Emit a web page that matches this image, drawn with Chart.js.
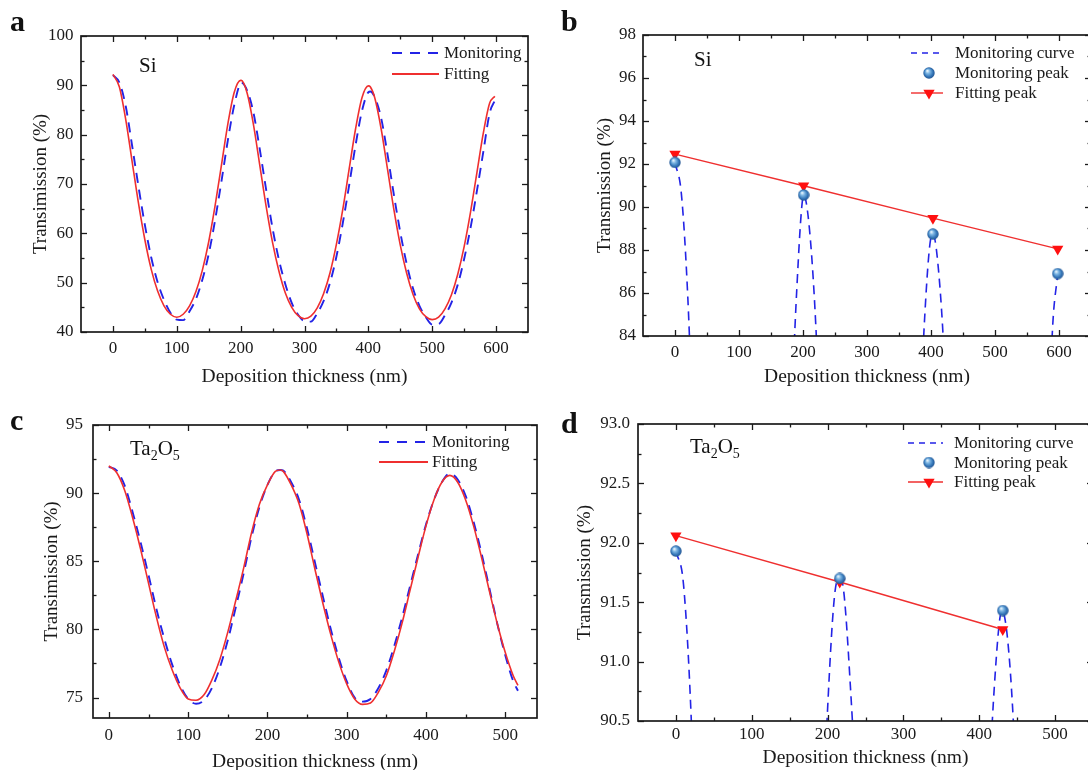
<!DOCTYPE html>
<html><head><meta charset="utf-8">
<script src="https://cdn.jsdelivr.net/npm/chart.js@4.4.1/dist/chart.umd.min.js"></script>
<style>
html,body{margin:0;padding:0;background:#fff;width:1088px;height:770px;overflow:hidden;position:relative}
canvas{position:absolute}
.lbl{position:absolute;font-family:"Liberation Serif","Times New Roman",serif;color:#111;white-space:nowrap;line-height:1}
.letter{font-weight:bold;font-size:30px}
.mat{font-size:21px}
.mat sub{font-size:14px;vertical-align:-5px;line-height:0}
</style></head><body>
<canvas id="ca" width="544" height="400" style="left:0;top:0"></canvas>
<canvas id="cb" width="560" height="400" style="left:544px;top:0"></canvas>
<canvas id="cc" width="544" height="400" style="left:0;top:385px"></canvas>
<canvas id="cd" width="560" height="400" style="left:544px;top:385px"></canvas>
<div class="lbl letter" style="left:10px;top:6px">a</div>
<div class="lbl letter" style="left:561px;top:6px">b</div>
<div class="lbl letter" style="left:10px;top:405px">c</div>
<div class="lbl letter" style="left:561px;top:408px">d</div>
<div class="lbl mat" style="left:139px;top:55px">Si</div>
<div class="lbl mat" style="left:694px;top:49px">Si</div>
<div class="lbl mat" style="left:130px;top:438px">Ta<sub>2</sub>O<sub>5</sub></div>
<div class="lbl mat" style="left:690px;top:436px">Ta<sub>2</sub>O<sub>5</sub></div>
<script>
// ---------- data ----------
const siThickness = [0,10,20,30,40,50,60,70,80,90,100,110,120,130,140,150,160,170,180,190,200,201,210,220,230,240,250,260,270,280,290,300,310,320,330,340,350,360,370,380,390,400,403,410,420,430,440,450,460,470,480,490,500,510,520,530,540,550,560,570,580,590,598];
const siFitting = [92.2,89.7,83.1,74.6,66.1,58.7,52.7,48.3,45.3,43.6,43.0,43.6,45.3,48.2,52.5,58.3,65.6,73.9,82.2,88.6,91.0,91.0,88.5,82.1,73.8,65.4,58.1,52.3,47.9,45.0,43.3,42.7,43.2,44.9,47.8,52.0,57.8,64.9,73.1,81.2,87.5,89.9,89.7,87.5,81.2,73.0,64.8,57.6,51.9,47.6,44.7,43.1,42.5,43.0,44.7,47.5,51.7,57.3,64.3,72.3,80.3,86.4,87.8];
const siMonitoring = [92.07,90.6,85.8,77.8,69.5,61.7,55.1,50.1,46.5,43.9,42.5,42.4,44.2,46.7,50.6,55.8,62.7,70.6,78.9,86.0,90.5,90.56,89.0,84.5,77.0,68.8,61.0,54.6,49.7,45.9,43.5,42.2,42.1,43.8,46.3,50.0,55.3,62.1,69.8,77.9,84.8,88.6,88.74,87.6,83.4,76.0,67.8,60.2,53.8,48.8,45.3,43.0,41.5,41.6,43.4,45.9,49.6,54.8,61.1,68.6,76.5,84.4,86.9];
const siPeakX = [0,201,403,598];
const siMonitorPeak = [92.07,90.56,88.74,86.9];
const siFitPeak = [92.46,90.99,89.48,88.05];

const taThickness = [0,10,20,30,40,50,60,70,80,90,100,110,120,130,140,150,160,170,180,190,200,210,216,220,230,240,250,260,270,280,290,300,310,320,330,340,350,360,370,380,390,400,410,420,430,440,450,460,470,480,490,500,510,516];
const taFitting = [92.0,91.5,90.2,88.2,85.9,83.4,80.9,78.7,77.0,75.7,74.9,74.8,75.2,76.3,77.8,79.8,82.1,84.5,87.1,89.2,90.6,91.6,91.7,91.6,90.6,89.2,87.0,84.4,81.9,79.6,77.6,76.0,74.9,74.5,74.6,75.4,76.6,78.4,80.5,82.9,85.3,87.6,89.5,90.8,91.3,90.8,89.5,87.6,85.3,82.8,80.4,78.3,76.6,75.9];
const taMonitoring = [91.93,91.65,90.55,88.6,86.4,84.0,81.5,79.3,77.4,75.9,74.9,74.55,74.8,75.7,77.2,79.2,81.6,84.1,86.8,89.0,90.6,91.6,91.70,91.65,90.8,89.5,87.4,84.9,82.4,80.0,77.9,76.2,75.0,74.7,74.9,75.7,77.0,78.8,80.9,83.2,85.5,87.7,89.5,90.8,91.43,91.0,89.8,87.9,85.6,83.0,80.4,78.1,76.2,75.5];
const taPeakX = [0,216,431];
const taMonitorPeak = [91.93,91.70,91.43];
const taFitPeak = [92.06,91.67,91.27];

// tick values
const siXTicks = [0,100,200,300,400,500,600];
const siXMinor = [50,150,250,350,450,550];
const taXTicksC = [0,100,200,300,400,500];
const taXMinorC = [50,150,250,350,450];
const taXTicksD = [0,100,200,300,400,500];
const taXMinorD = [50,150,250,350,450];
const aYTicks = [40,50,60,70,80,90,100];
const aYMinor = [45,55,65,75,85,95];
const bYTicks = [84,86,88,90,92,94,96,98];
const bYMinor = [85,87,89,91,93,95,97];
const cYTicks = [75,80,85,90,95];
const cYMinor = [77.5,82.5,87.5,92.5];
const dYTicks = [90.5,91.0,91.5,92.0,92.5,93.0];
const dYMinor = [90.75,91.25,91.75,92.25,92.75];

// ---------- styling helpers ----------
const FONT = '"Liberation Serif", "Times New Roman", serif';
const BLUE = '#2323e6';
const RED = '#ef2f2f';
const TXT = '#1a1a1a';

function makeSphere(d){
  const c = document.createElement('canvas'); c.width = c.height = d;
  const g = c.getContext('2d'); const r = d/2;
  const grad = g.createRadialGradient(r*0.72, r*0.62, r*0.08, r, r, r);
  grad.addColorStop(0,'#e4f2fc'); grad.addColorStop(0.3,'#7db6e3');
  grad.addColorStop(0.7,'#3476b8'); grad.addColorStop(1,'#1f4f8c');
  g.fillStyle = grad; g.beginPath(); g.arc(r, r, r-0.3, 0, Math.PI*2); g.fill();
  return c;
}
const sphere = makeSphere(12);

function drawDownTri(ctx, x, y, r, color){
  ctx.save(); ctx.fillStyle = color; ctx.beginPath();
  ctx.moveTo(x - r*0.87, y - r*0.5); ctx.lineTo(x + r*0.87, y - r*0.5); ctx.lineTo(x, y + r);
  ctx.closePath(); ctx.fill(); ctx.restore();
}

const framePlugin = {
  id: 'frame',
  afterDatasetsDraw(chart, args, o){
    const {ctx, chartArea:{left,right,top,bottom}, scales:{x,y}} = chart;
    ctx.save();
    ctx.strokeStyle = '#1a1a1a';
    ctx.lineWidth = 1.3;
    const seg = (x1,y1,x2,y2)=>{ctx.beginPath();ctx.moveTo(x1,y1);ctx.lineTo(x2,y2);ctx.stroke();};
    const xt = (vals,len)=>vals.forEach(v=>{const p=Math.round(x.getPixelForValue(v))+0.5; seg(p,bottom,p,bottom-len); seg(p,top,p,top+len);});
    const yt = (vals,len)=>vals.forEach(v=>{const p=Math.round(y.getPixelForValue(v))+0.5; seg(left,p,left+len,p); seg(right,p,right-len,p);});
    xt(o.xMajor,6); xt(o.xMinor,3.5); yt(o.yMajor,6); yt(o.yMinor,3.5);
    ctx.lineWidth = 1.7;
    ctx.strokeRect(left, top, right-left, bottom-top);
    ctx.restore();
  }
};

const legendPlugin = {
  id: 'panelLegend',
  afterDraw(chart, args, o){
    if(!o.items) return;
    const ctx = chart.ctx; ctx.save();
    ctx.font = '17px ' + FONT; ctx.textBaseline = 'middle'; ctx.fillStyle = TXT;
    o.items.forEach((it,i)=>{
      const yy = o.y0 + i*o.dy;
      if(it.line){
        ctx.strokeStyle = it.line.color; ctx.lineWidth = it.line.width;
        ctx.setLineDash(it.line.dash || []);
        ctx.beginPath(); ctx.moveTo(o.x1, yy); ctx.lineTo(o.x2, yy); ctx.stroke();
        ctx.setLineDash([]);
      }
      const mx = o.mx !== undefined ? o.mx : (o.x1+o.x2)/2;
      if(it.marker==='sphere') ctx.drawImage(sphere, mx-6, yy-6);
      if(it.marker==='tri') drawDownTri(ctx, mx, yy, 6.5, '#ff1010');
      ctx.fillStyle = TXT;
      ctx.fillText(it.text, o.tx, yy+1);
    });
    ctx.restore();
  }
};

function xy(xs, ys){ return xs.map((v,i)=>({x:v, y:ys[i]})); }

function makeChart(id, c){
  const H = 400;
  const W = document.getElementById(id).width;
  return new Chart(document.getElementById(id), {
    type: 'line',
    data: { datasets: c.datasets },
    plugins: [framePlugin, legendPlugin],
    options: {
      responsive: false, animation: false, devicePixelRatio: 1,
      layout: { padding: { left: 0, top: c.area.T, right: W - c.area.R, bottom: 0 } },
      plugins: {
        legend: { display: false }, tooltip: { enabled: false },
        frame: { xMajor: c.xTicks, xMinor: c.xMinor, yMajor: c.yTicks, yMinor: c.yMinor },
        panelLegend: c.legend
      },
      scales: {
        x: {
          type: 'linear', min: c.xMin, max: c.xMax,
          afterBuildTicks: s => { s.ticks = c.xTicks.map(v=>({value:v})); },
          afterFit: s => { s.height = H - c.area.B; },
          grid: { display: false, drawTicks: false }, border: { display: false },
          ticks: { font: { family: FONT, size: 17 }, color: TXT, padding: c.xLabelPad, maxRotation: 0, autoSkip: false },
          title: { display: true, text: 'Deposition thickness (nm)', color: TXT, font: { family: FONT, size: 19.5 }, padding: { top: 0, bottom: c.xTitlePad } }
        },
        y: {
          type: 'linear', min: c.yMin, max: c.yMax,
          afterBuildTicks: s => { s.ticks = c.yTicks.map(v=>({value:v})); },
          afterFit: s => { s.width = c.area.L; },
          grid: { display: false, drawTicks: false }, border: { display: false },
          ticks: { font: { family: FONT, size: 17 }, color: TXT, padding: c.yLabelPad, autoSkip: false,
                   callback: v => c.yFmt ? v.toFixed(c.yFmt) : String(v) },
          title: { display: true, text: c.yTitle, color: TXT, font: { family: FONT, size: 19 }, padding: { top: c.yTitlePad, bottom: 0 } }
        }
      }
    }
  });
}

const curveOpts = { pointRadius: 0, cubicInterpolationMode: 'monotone', fill: false };

// ---------- panel a ----------
makeChart('ca', {
  area: {L:81, T:36, R:528, B:332}, xMin:-50, xMax:650, yMin:40, yMax:100,
  xTicks: siXTicks, xMinor: siXMinor, yTicks: aYTicks, yMinor: aYMinor,
  yTitle: 'Transimission (%)', yTitlePad: 29.6, xTitlePad: 11.6, yLabelPad: 7.5, xLabelPad: 6,
  datasets: [
    Object.assign({ label:'Fitting', data: xy(siThickness, siFitting), borderColor: RED, borderWidth: 1.6 }, curveOpts),
    Object.assign({ label:'Monitoring', data: xy(siThickness, siMonitoring), borderColor: BLUE, borderWidth: 1.9, borderDash: [10,7] }, curveOpts)
  ],
  legend: { x1: 392, x2: 439, tx: 444, y0: 53, dy: 21, items: [
    { text: 'Monitoring', line: { color: BLUE, width: 1.9, dash: [10,8] } },
    { text: 'Fitting', line: { color: RED, width: 1.8 } }
  ]}
});

// ---------- panel b ----------
makeChart('cb', {
  area: {L:99, T:35, R:547, B:336}, xMin:-50, xMax:650, yMin:84, yMax:98,
  xTicks: siXTicks, xMinor: siXMinor, yTicks: bYTicks, yMinor: bYMinor,
  yTitle: 'Transmission (%)', yTitlePad: 49.6, xTitlePad: 11.6, yLabelPad: 7, xLabelPad: 6,
  datasets: [
    { label:'Monitoring peak', data: xy(siPeakX, siMonitorPeak), showLine: false, pointStyle: sphere, pointRadius: 6 },
    { label:'Fitting peak', data: xy(siPeakX, siFitPeak), borderColor: RED, borderWidth: 1.4, pointStyle: 'triangle', rotation: 180, pointRotation: 180, pointRadius: 6.5, pointBackgroundColor: '#ff1010', pointBorderColor: '#ff1010', pointBorderWidth: 0 },
    Object.assign({ label:'Monitoring curve', data: xy(siThickness, siMonitoring), borderColor: BLUE, borderWidth: 1.6, borderDash: [9,6] }, curveOpts)
  ],
  legend: { x1: 367, x2: 399, mx: 385, tx: 411, y0: 53, dy: 20, items: [
    { text: 'Monitoring curve', line: { color: BLUE, width: 1.5, dash: [6,5] } },
    { text: 'Monitoring peak', marker: 'sphere' },
    { text: 'Fitting peak', line: { color: RED, width: 1.4 }, marker: 'tri' }
  ]}
});

// ---------- panel c ----------
makeChart('cc', {
  area: {L:93, T:40, R:537, B:333}, xMin:-20, xMax:540, yMin:73.5, yMax:95,
  xTicks: taXTicksC, xMinor: taXMinorC, yTicks: cYTicks, yMinor: cYMinor,
  yTitle: 'Transimission (%)', yTitlePad: 40.6, xTitlePad: 11.6, yLabelPad: 10, xLabelPad: 7.5,
  datasets: [
    Object.assign({ label:'Fitting', data: xy(taThickness, taFitting), borderColor: RED, borderWidth: 1.6 }, curveOpts),
    Object.assign({ label:'Monitoring', data: xy(taThickness, taMonitoring), borderColor: BLUE, borderWidth: 1.9, borderDash: [10,7] }, curveOpts)
  ],
  legend: { x1: 379, x2: 428, tx: 432, y0: 57, dy: 20, items: [
    { text: 'Monitoring', line: { color: BLUE, width: 1.9, dash: [10,8] } },
    { text: 'Fitting', line: { color: RED, width: 1.8 } }
  ]}
});

// ---------- panel d ----------
makeChart('cd', {
  area: {L:94, T:39, R:549, B:336}, xMin:-50, xMax:550, yMin:90.5, yMax:93,
  xTicks: taXTicksD, xMinor: taXMinorD, yTicks: dYTicks, yMinor: dYMinor, yFmt: 1,
  yTitle: 'Transmission (%)', yTitlePad: 29.6, xTitlePad: 15.6, yLabelPad: 8, xLabelPad: 3.5,
  datasets: [
    { label:'Monitoring peak', data: xy(taPeakX, taMonitorPeak), showLine: false, pointStyle: sphere, pointRadius: 6 },
    { label:'Fitting peak', data: xy(taPeakX, taFitPeak), borderColor: RED, borderWidth: 1.4, pointStyle: 'triangle', rotation: 180, pointRotation: 180, pointRadius: 6.5, pointBackgroundColor: '#ff1010', pointBorderColor: '#ff1010', pointBorderWidth: 0 },
    Object.assign({ label:'Monitoring curve', data: xy(taThickness, taMonitoring), borderColor: BLUE, borderWidth: 1.6, borderDash: [9,6] }, curveOpts)
  ],
  legend: { x1: 364, x2: 399, mx: 385, tx: 410, y0: 58, dy: 19.5, items: [
    { text: 'Monitoring curve', line: { color: BLUE, width: 1.5, dash: [6,5] } },
    { text: 'Monitoring peak', marker: 'sphere' },
    { text: 'Fitting peak', line: { color: RED, width: 1.4 }, marker: 'tri' }
  ]}
});
</script>
</body></html>
